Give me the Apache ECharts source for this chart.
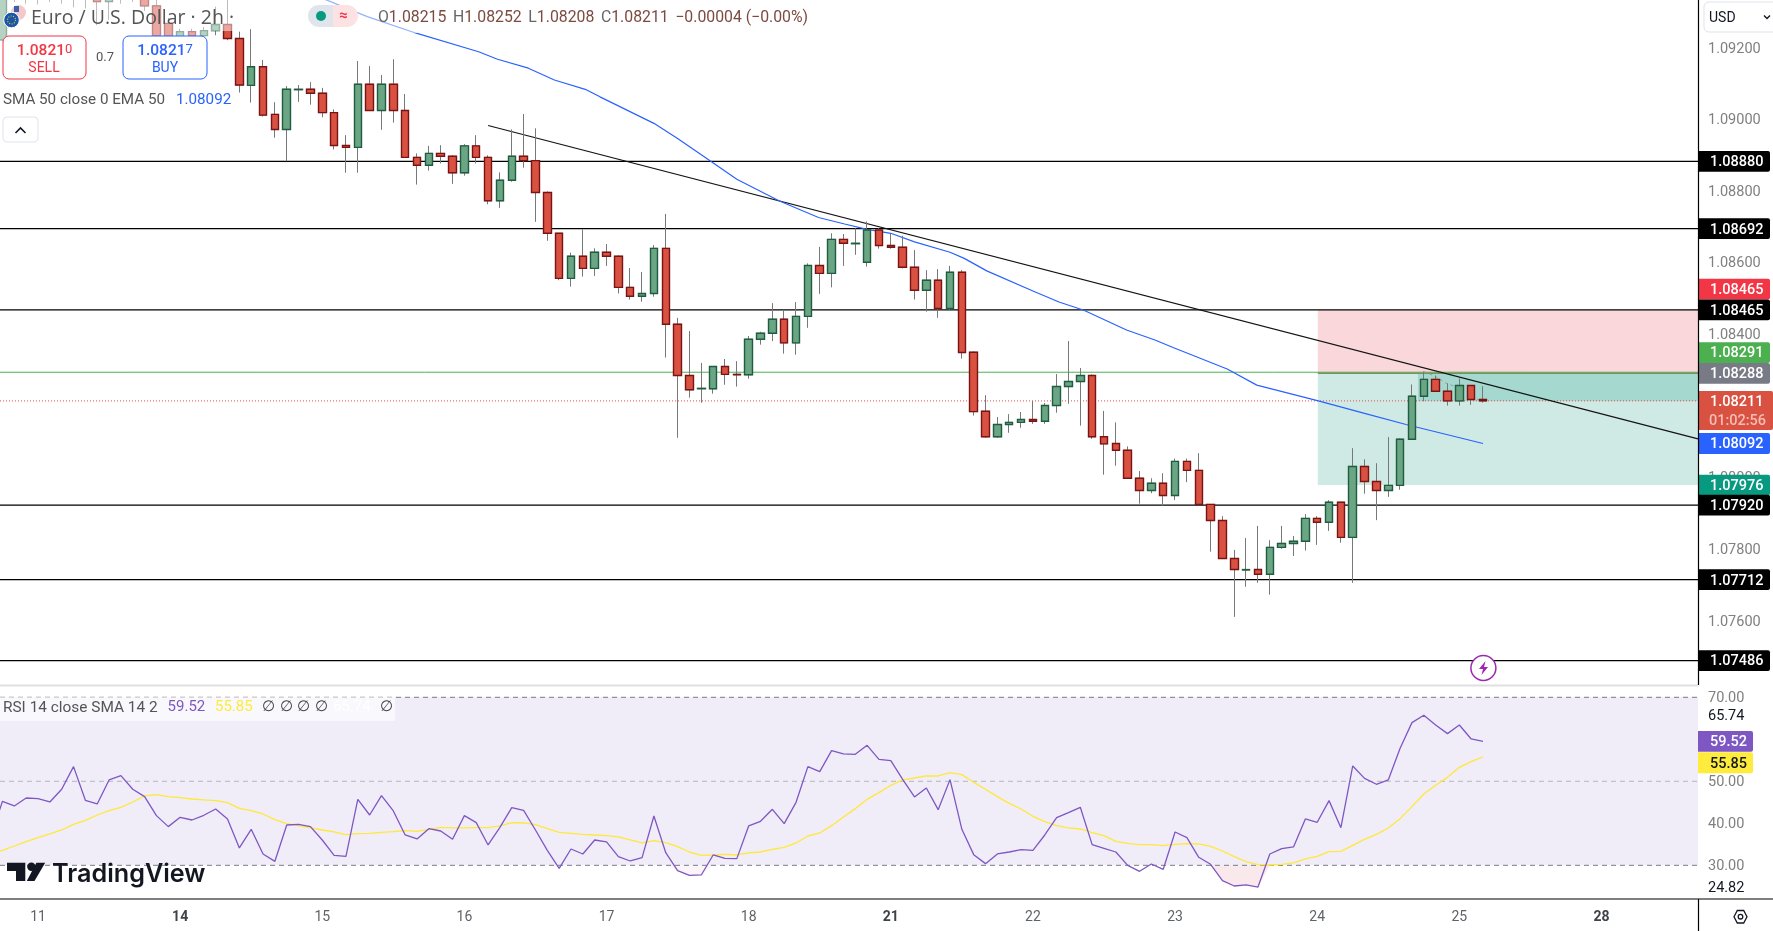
<!DOCTYPE html>
<html><head><meta charset="utf-8">
<style>html,body{margin:0;padding:0;background:#fff}#c{width:1773px;height:931px}</style>
<script src="https://cdn.jsdelivr.net/npm/echarts@6/dist/echarts.min.js"></script>
</head><body><div id="c"></div>
<script>
// ---- data (bar index 0 = the "11" day tick; the first bar is index -3, 2h bars) ----
const firstBar = -3;
const opens = [
1.09219,1.09360,1.09400,1.09370,1.09400,1.09380,1.09410,1.09380,1.09400,1.09326,
1.09400,1.09370,1.09385,1.09314,1.09265,1.09228,1.09242,1.09231,1.09245,1.09262,
1.09223,1.09092,1.09144,1.09011,1.08969,1.09080,1.09081,1.09070,1.09016,1.08924,
1.08919,1.09095,1.09022,1.09095,1.09022,1.08891,1.08869,1.08902,1.08894,1.08848,
1.08923,1.08891,1.08770,1.08827,1.08894,1.08882,1.08793,1.08679,1.08553,1.08615,
1.08581,1.08626,1.08615,1.08528,1.08503,1.08511,1.08637,1.08425,1.08282,1.08245,
1.08245,1.08307,1.08285,1.08284,1.08383,1.08400,1.08439,1.08373,1.08447,1.08589,
1.08567,1.08662,1.08650,1.08598,1.08688,1.08645,1.08640,1.08584,1.08520,1.08548,
1.08469,1.08570,1.08347,1.08182,1.08111,1.08145,1.08151,1.08159,1.08154,1.08198,
1.08251,1.08265,1.08282,1.08111,1.08092,1.08073,1.07995,1.07961,1.07981,1.07947,
1.08042,1.08017,1.07922,1.07877,1.07771,1.07739,1.07740,1.07727,1.07802,1.07813,
1.07819,1.07883,1.07872,1.07928,1.07830,1.08028,1.07986,1.07961,1.07975,1.08104,
1.08224,1.08271,1.08238,1.08211,1.08254,1.08215];
const closes = [
1.09400,1.09400,1.09370,1.09400,1.09380,1.09410,1.09380,1.09390,1.09326,1.09400,
1.09370,1.09385,1.09314,1.09230,1.09230,1.09242,1.09230,1.09245,1.09262,1.09223,
1.09093,1.09144,1.09009,1.08969,1.09081,1.09081,1.09070,1.09016,1.08924,1.08919,
1.09095,1.09022,1.09095,1.09022,1.08891,1.08869,1.08902,1.08894,1.08848,1.08923,
1.08891,1.08770,1.08827,1.08894,1.08882,1.08793,1.08679,1.08553,1.08615,1.08581,
1.08626,1.08615,1.08528,1.08503,1.08511,1.08637,1.08425,1.08282,1.08242,1.08246,
1.08307,1.08285,1.08284,1.08383,1.08400,1.08439,1.08373,1.08447,1.08589,1.08567,
1.08662,1.08651,1.08651,1.08688,1.08645,1.08640,1.08584,1.08520,1.08548,1.08469,
1.08570,1.08346,1.08181,1.08111,1.08145,1.08151,1.08159,1.08154,1.08198,1.08251,
1.08265,1.08282,1.08111,1.08091,1.08073,1.07995,1.07961,1.07981,1.07947,1.08042,
1.08017,1.07922,1.07877,1.07771,1.07740,1.07740,1.07727,1.07802,1.07813,1.07819,
1.07883,1.07872,1.07928,1.07830,1.08028,1.07986,1.07961,1.07975,1.08104,1.08224,
1.08271,1.08238,1.08211,1.08254,1.08215,1.08211];
const lows = [
1.09215,1.09325,1.09320,1.09318,1.09325,1.09320,1.09310,1.09307,1.09260,1.09275,
1.09320,1.09325,1.09300,1.09228,1.09225,1.09222,1.09225,1.09225,1.09232,1.09218,
1.09072,1.09044,1.09005,1.08946,1.08880,1.09046,1.09038,1.09003,1.08913,1.08848,
1.08848,1.09022,1.08968,1.08988,1.08891,1.08815,1.08854,1.08874,1.08817,1.08840,
1.08874,1.08760,1.08750,1.08823,1.08862,1.08711,1.08658,1.08548,1.08530,1.08558,
1.08560,1.08588,1.08511,1.08494,1.08488,1.08502,1.08332,1.08108,1.08220,1.08206,
1.08231,1.08256,1.08251,1.08273,1.08368,1.08378,1.08343,1.08340,1.08415,1.08510,
1.08528,1.08588,1.08619,1.08586,1.08636,1.08636,1.08581,1.08494,1.08460,1.08443,
1.08465,1.08329,1.08170,1.08108,1.08108,1.08122,1.08136,1.08147,1.08147,1.08178,
1.08203,1.08142,1.08105,1.08005,1.08030,1.07995,1.07924,1.07953,1.07918,1.07934,
1.07984,1.07920,1.07790,1.07771,1.07608,1.07692,1.07703,1.07670,1.07798,1.07778,
1.07793,1.07809,1.07848,1.07815,1.07703,1.07952,1.07878,1.07943,1.07963,1.08104,
1.08210,1.08238,1.08198,1.08198,1.08200,1.08208];
const highs = [
1.09420,1.09420,1.09420,1.09430,1.09440,1.09430,1.09430,1.09410,1.09440,1.09420,
1.09420,1.09410,1.09410,1.09345,1.09280,1.09250,1.09250,1.09255,1.09312,1.09340,
1.09242,1.09249,1.09163,1.09045,1.09090,1.09093,1.09101,1.09085,1.09025,1.08953,
1.09160,1.09146,1.09121,1.09165,1.09068,1.08902,1.08923,1.08925,1.08897,1.08928,
1.08953,1.08897,1.08849,1.08969,1.09012,1.08972,1.08796,1.08679,1.08625,1.08690,
1.08637,1.08649,1.08617,1.08582,1.08571,1.08646,1.08733,1.08443,1.08406,1.08317,
1.08307,1.08328,1.08322,1.08392,1.08404,1.08484,1.08465,1.08487,1.08595,1.08641,
1.08679,1.08677,1.08693,1.08712,1.08693,1.08679,1.08672,1.08632,1.08576,1.08579,
1.08588,1.08576,1.08349,1.08227,1.08166,1.08174,1.08180,1.08211,1.08205,1.08286,
1.08378,1.08303,1.08285,1.08183,1.08151,1.08084,1.08015,1.07995,1.08009,1.08050,
1.08050,1.08065,1.07922,1.07889,1.07795,1.07828,1.07862,1.07822,1.07862,1.07834,
1.07895,1.07889,1.07934,1.07928,1.08079,1.08048,1.08037,1.08110,1.08106,1.08257,
1.08293,1.08282,1.08260,1.08274,1.08254,1.08252];

// EMA 50: vertices [bar, price]
const emaBars = [23,24.4,27.8,32,37.2,38.8,41.4,43.6,46.2,47.45,52,54,56.8,59,62.6,65.9,68.1,70,72,74,77,78.2,80.1,84,86.2,88.3,91.9,94.3,95.83,100.4,102.9,108.1,112,115.5,122];
const emaVals = [1.09344,1.09330,1.09284,1.09237,1.09186,1.09165,1.09140,1.09107,1.09081,1.09060,1.08986,1.08944,1.08880,1.08830,1.08769,1.08723,1.08705,1.08690,1.08679,1.08655,1.08626,1.08609,1.08574,1.08518,1.08487,1.08464,1.08409,1.08381,1.08360,1.08300,1.08255,1.08211,1.08176,1.08145,1.08092];

const rsiFirstBar = -4;
const rsi = [
36.8,45.24,44.13,46.03,45.87,45.08,48.10,53.49,45.48,44.60,50.32,51.35,48.10,46.35,41.83,39.21,41.43,40.79,41.91,43.41,
41.03,34.13,38.57,32.70,30.95,39.60,39.76,39.21,36.03,32.38,32.14,45.71,41.98,46.59,42.94,37.22,36.27,38.73,38.17,36.19,
41.83,40.16,34.84,39.05,43.73,43.10,38.41,33.57,29.29,33.89,32.70,36.03,35.56,32.06,31.03,31.82,41.75,33.0,28.73,27.62,
27.70,32.46,31.67,31.59,39.37,40.48,43.33,39.92,45.0,53.49,52.30,57.30,56.51,56.43,58.57,55.24,54.92,50.48,46.27,48.41,
43.25,50.40,38.57,32.54,30.40,32.70,33.17,33.73,33.57,37.22,41.35,42.54,43.81,34.92,34.05,33.17,30.0,28.57,30.32,29.05,
37.94,36.59,31.91,30.24,26.35,25.08,25.32,24.82,32.70,33.97,34.37,41.03,40.24,45.40,38.97,53.65,50.71,49.29,50.32,57.86,
63.97,65.74,63.41,61.35,63.41,60.08,59.52];
const rsiSma = [
32.86,33.57,34.60,35.63,36.59,37.46,38.41,39.76,40.71,41.98,43.0,43.81,45.08,46.51,46.83,46.35,46.11,45.79,45.56,45.40,
44.92,43.57,43.0,42.22,40.87,39.92,39.44,38.89,38.41,37.94,37.30,37.54,37.62,37.86,38.0,38.25,38.10,38.57,39.05,38.89,
38.89,38.97,38.97,39.37,40.16,40.08,39.68,38.73,37.86,37.62,37.38,37.22,37.06,36.75,36.03,35.32,35.87,35.40,34.44,33.17,
32.38,32.46,32.62,32.46,32.94,33.17,33.81,34.29,35.32,36.98,37.70,39.44,41.51,43.49,45.71,47.30,49.05,50.32,50.79,51.27,
51.27,52.06,51.59,49.76,48.10,46.35,44.76,43.41,41.67,40.40,39.44,38.89,38.65,37.78,37.06,35.71,35.24,34.92,34.92,34.68,
35.0,35.16,35.08,34.49,33.41,32.06,30.87,30.16,30.08,30.24,30.56,31.51,32.14,33.25,33.33,34.76,36.19,37.38,38.89,41.11,
43.97,46.98,49.05,50.94,53.33,54.68,55.85];

const blackLevels = [1.08880,1.08692,1.08465,1.07920,1.07712,1.07486];
const stopLevel = 1.08465, entryLevel = 1.08288, targetLevel = 1.07976, greenLevel = 1.08291, lastPrice = 1.08211;
const positionStartBar = 108.05, positionFillBar = 116.5;
const trendBars = [38,140.15];
const trendVals = [1.08980,1.08105];
const pathBars = [117,118,119,120,121,122];
const pathVals = [1.08293,1.08279,1.08258,1.08249,1.08227,1.08206];

const dayBars = [0,12,24,36,48,60,72,84,96,108,120,132];
const dayLabels = ['11','14','15','16','17','18','21','22','23','24','25','28'];
const boldDays = ['14','21','28'];
const priceTicks = [1.092,1.090,1.088,1.086,1.084,1.082,1.080,1.078,1.076];
const rsiTicks = [70,65.74,50,40,30,24.82];
const rsiMarked = [65.74,24.82];

// right-hand price badges: [position value, text, background, text colour]
const priceBadges = [
 [1.08880,'1.08880','#000000','#ffffff'],[1.08692,'1.08692','#000000','#ffffff'],
 [1.08523,'1.08465','#f23645','#ffffff'],[1.08465,'1.08465','#000000','#ffffff'],
 [1.08346,'1.08291','#4caf50','#ffffff'],[1.08288,'1.08288','#787b86','#ffffff'],
 [1.08092,'1.08092','#2962ff','#ffffff'],[1.07976,'1.07976','#089981','#ffffff'],
 [1.07920,'1.07920','#000000','#ffffff'],[1.07712,'1.07712','#000000','#ffffff'],
 [1.07486,'1.07486','#000000','#ffffff']];
const rsiBadges = [[59.52,'59.52','#7e57c2','#ffffff'],[54.42,'55.85','#ffeb3b','#131722']];

// ---- chart ----
const X_MIN=-3.208, X_MAX=140.15, FONT='Roboto, sans-serif';
const AXIS_X=1698;
const bars = opens.map((o,k)=>k+firstBar);
const wickData = opens.map((o,k)=>[bars[k],o,closes[k],lows[k],highs[k]]);
const bodyData = opens.map((o,k)=>[bars[k],o,closes[k],Math.min(o,closes[k]),Math.max(o,closes[k])]);
const toPairs=(xs,ys)=>xs.map((x,k)=>[x,ys[k]]);
const rsiPairs = rsi.map((v,k)=>[k+rsiFirstBar,v]);
const smaPairs = rsiSma.map((v,k)=>[k+rsiFirstBar,v]);
const hline=(name,v,color,width,type,ax,z)=>({name,type:'line',xAxisIndex:ax,yAxisIndex:ax,data:[[X_MIN,v],[X_MAX,v]],
  showSymbol:false,symbol:'none',silent:true,z:z||2,lineStyle:{color,width,type:type||'solid'},animation:false});

const boxes=[ // x0,x1,yTop,yBottom,fill
 [positionStartBar,X_MAX,stopLevel,entryLevel,'#fad7da'],
 [positionStartBar,X_MAX,entryLevel,targetLevel,'#cfeae4'],
 [positionFillBar,X_MAX,entryLevel,lastPrice,'#a5d9d0']];

function boxRender(p,api){
 const a=api.coord([api.value(0),api.value(2)]), b=api.coord([api.value(1),api.value(3)]);
 return {type:'rect',shape:{x:a[0],y:a[1],width:b[0]-a[0],height:b[1]-a[1]},style:{fill:boxes[p.dataIndex][4]}};
}
function badge(y,h,w,bg,fg,text,extra){
 const kids=[{type:'rect',shape:{x:AXIS_X,y:y-h/2,width:w,height:h,r:[0,2,2,0]},style:{fill:bg}},
  {type:'text',style:{x:AXIS_X+12,y:extra?y-8.5:y+1.3,text,fill:fg,font:'500 14.5px '+FONT,textVerticalAlign:'middle',textAlign:'left'}}];
 if(extra) kids.push({type:'text',style:{x:AXIS_X+11,y:y+11,text:extra,fill:'#f5bdb6',font:'500 14.5px '+FONT,textVerticalAlign:'middle',textAlign:'left'}});
 return {type:'group',children:kids};
}
const priceBadgeRender=(p,api)=>{const r=priceBadges[p.dataIndex];
 return badge(api.coord([X_MAX,api.value(1)])[1],20.8,72,r[2],r[3],r[1]);};
const rsiBadgeRender=(p,api)=>{const r=rsiBadges[p.dataIndex];
 return badge(api.coord([X_MAX,api.value(1)])[1],20.8,55,r[2],r[3],r[1]);};
const timerRender=(p,api)=>badge(api.coord([X_MAX,api.value(1)])[1],39,75,'#d95140','#ffffff','1.08211','01:02:56');

const G=[]; // page chrome and legends
const Z=50;
const T=(x,y,text,fill,size,weight,extra)=>G.push(Object.assign({type:'text',z:Z+2,x,y,style:{text,fill,font:(weight||400)+' '+size+'px '+FONT,textVerticalAlign:'middle'}},extra||{}));
const R=(x,y,w,h,fill,stroke,r,z)=>G.push({type:'rect',z:z||Z+1,shape:{x,y,width:w,height:h,r:r||0},style:{fill,stroke:stroke||null,lineWidth:stroke?1:0}});
const L=(x1,y1,x2,y2,stroke,w)=>G.push({type:'line',z:Z,shape:{x1,y1,x2,y2},style:{stroke,lineWidth:w||1}});
// header fade
R(0,0,233,31,'rgba(255,255,255,0.5)',null,0,Z);
R(0,31,210,51,'rgba(255,255,255,0.5)',null,0,Z);
R(300,0,530,33,'rgba(255,255,255,0.5)',null,0,Z);
// flags
G.push({type:'circle',z:Z+1,shape:{cx:18.5,cy:12.5,r:7.5},style:{fill:'#f4c9cc'}});
R(14,6,5,6,'#3c5fa8',null,0,Z+1);
G.push({type:'circle',z:Z+2,shape:{cx:11.5,cy:20,r:7.8},style:{fill:'#1a57a8',stroke:'#fff',lineWidth:1}});
G.push({type:'circle',z:Z+3,shape:{cx:11.5,cy:20,r:4},style:{fill:'none',stroke:'#e8c93a',lineWidth:1.2,lineDash:[1,1.5]}});
T(31,18,'Euro / U.S. Dollar · 2h ·','#555555',19.5,400,{style:{text:'Euro / U.S. Dollar · 2h ·',fill:'#555555',font:'400 19.5px "Open Sans", sans-serif',textVerticalAlign:'middle'}});
// status pill
R(308,5,25,22,'#dfe5ea',null,[11,0,0,11]);
R(333,5,25,22,'#fde2e4',null,[0,11,11,0]);
G.push({type:'circle',z:Z+2,shape:{cx:321,cy:16,r:5},style:{fill:'#089981'}});
T(339,16,'≈','#f23645',15,700);
// OHLC
G.push({type:'text',z:Z+2,x:378,y:18,style:{text:'{l|O}{v|1.08215}  {l|H}{v|1.08252}  {l|L}{v|1.08208}  {l|C}{v|1.08211}  {v|−0.00004 (−0.00%)}',
  textVerticalAlign:'middle',rich:{l:{fill:'#666',font:'400 15.8px '+FONT},v:{fill:'#7c4a40',font:'400 15.8px '+FONT}}}});
// sell / buy
R(3,36,83,43,'#fff','#f23645',6);
G.push({type:'text',z:Z+2,x:44.5,y:51,style:{text:'{a|1.0821}{b|0}',textAlign:'center',textVerticalAlign:'middle',rich:{a:{fill:'#f23645',font:'500 15.5px '+FONT},b:{fill:'#f23645',font:'400 13px '+FONT,verticalAlign:'top'}}}});
T(44,68,'SELL','#f23645',14,400,{style:{text:'SELL',fill:'#f23645',font:'400 14px '+FONT,textAlign:'center',textVerticalAlign:'middle'}});
T(96,58,'0.7','#555555',13,400);
R(123,36,84,43,'#fff','#2962ff',6);
G.push({type:'text',z:Z+2,x:165,y:51,style:{text:'{a|1.0821}{b|7}',textAlign:'center',textVerticalAlign:'middle',rich:{a:{fill:'#2962ff',font:'500 15.5px '+FONT},b:{fill:'#2962ff',font:'400 13px '+FONT,verticalAlign:'top'}}}});
T(165,68,'BUY','#2962ff',14,400,{style:{text:'BUY',fill:'#2962ff',font:'400 14px '+FONT,textAlign:'center',textVerticalAlign:'middle'}});
// EMA legend
T(3,99.7,'SMA 50 close 0 EMA 50','#555555',15.2,400);
T(176,99.7,'1.08092','#2962ff',15.2,400);
R(3,117,35,25,'#fff','#e0e3eb',4);
G.push({type:'polyline',z:Z+2,shape:{points:[[15.5,133],[20.5,128],[25.5,133]]},style:{stroke:'#131722',lineWidth:1.6,fill:'none'}});
// USD
R(1704,2,75,30,'#fff','#e0e3eb',5);
T(1709,18,'USD','#131722',14,400);
G.push({type:'polyline',z:Z+2,shape:{points:[[1764,15.5],[1767,18.5],[1770,15.5]]},style:{stroke:'#131722',lineWidth:1.4,fill:'none'}});
// lightning
G.push({type:'circle',z:Z+1,shape:{cx:1483.4,cy:668,r:12.5},style:{fill:'#fff',stroke:'#9c27b0',lineWidth:1.5}});
G.push({type:'polygon',z:Z+2,shape:{points:[[1485.5,661],[1479,669],[1483,669],[1481.5,675],[1488,667],[1484,667]]},style:{fill:'#9c27b0'}});
// frame lines
L(0,685.5,AXIS_X,685.5,'#e0e0e0',2);
L(AXIS_X+0.5,0,AXIS_X+0.5,685,'#000',1.2);
L(0,899,1773,899,'#000',1.2);
L(AXIS_X+0.5,899,AXIS_X+0.5,931,'#000',1.2);
// gear
G.push({type:'polygon',z:Z,shape:{points:[[1734,916.7],[1737.3,910.5],[1743.7,910.5],[1747,916.7],[1743.7,923],[1737.3,923]]},style:{fill:'none',stroke:'#131722',lineWidth:1.3}});
G.push({type:'circle',z:Z,shape:{cx:1740.5,cy:916.7,r:2.3},style:{fill:'none',stroke:'#131722',lineWidth:1.3}});
// RSI legend
R(0,697,395,24,'rgba(255,255,255,0.6)',null,0,Z-1);
T(3,707.7,'RSI 14 close SMA 14 2','#555555',15.4,400);
T(167.6,707.7,'59.52','#7e57c2',15,400);
T(215,707.7,'55.85','#ffeb3b',15,400);
[262,280,297,315,380].forEach(x=>T(x,707.7,'∅','#444',15,400));
T(333,707.7,'65.74','#ffffff',15,400);
// logo
G.push({type:'polygon',z:Z+2,shape:{points:[[7,862.7],[25.3,862.7],[25.3,881],[16,881],[16,871],[7,871]]},style:{fill:'#131722'}});
G.push({type:'circle',z:Z+2,shape:{cx:31.4,cy:866.7,r:4.2},style:{fill:'#131722'}});
G.push({type:'polygon',z:Z+2,shape:{points:[[36.4,862.7],[45.2,862.7],[34.5,881],[26.8,881]]},style:{fill:'#131722'}});
T(52,874,'TradingView','#131722',25,600,{style:{text:'TradingView',fill:'#131722',font:'600 25.2px Inter, sans-serif',textVerticalAlign:'middle'}});

const option={
 animation:false,backgroundColor:'#ffffff',
 grid:[{left:0,top:0,width:AXIS_X,height:685},{left:0,top:685,width:AXIS_X,height:214}],
 xAxis:[
  {type:'value',gridIndex:0,min:X_MIN,max:X_MAX,show:false,splitLine:{show:false}},
  {type:'value',gridIndex:1,min:X_MIN,max:X_MAX,splitLine:{show:false},axisLine:{show:false},axisTick:{show:false},
   axisLabel:{customValues:dayBars,margin:11,hideOverlap:false,showMinLabel:true,showMaxLabel:true,
    formatter:v=>{const d=dayLabels[dayBars.indexOf(Math.round(v))];return boldDays.includes(d)?'{b|'+d+'}':'{n|'+d+'}';},
    rich:{n:{color:'#5f6368',fontFamily:FONT,fontSize:14},b:{color:'#3f4247',fontFamily:FONT,fontSize:14,fontWeight:700}}}}],
 yAxis:[
  {type:'value',gridIndex:0,position:'right',min:1.074177,max:1.093304,splitLine:{show:false},axisLine:{show:false},axisTick:{show:false},
   axisLabel:{customValues:priceTicks,margin:10,formatter:v=>'{p|'+v.toFixed(5)+'}',
    rich:{p:{color:'#808080',fontFamily:FONT,fontSize:14.5,padding:[4.5,0,0,0]}}}},
  {type:'value',gridIndex:1,position:'right',min:21.98,max:72.93,splitLine:{show:false},axisLine:{show:false},axisTick:{show:false},
   axisLabel:{customValues:rsiTicks,margin:10,
    formatter:v=>(rsiMarked.includes(v)?'{m|':'{p|')+v.toFixed(2)+'}',
    rich:{p:{color:'#808080',fontFamily:FONT,fontSize:14.5,padding:[2.5,0,0,0]},m:{color:'#131722',fontFamily:FONT,fontSize:14.5,padding:[2.5,0,0,0]}}}}],
 graphic:{elements:G},
 series:[
  {name:'Position zones',type:'custom',renderItem:boxRender,xAxisIndex:0,yAxisIndex:0,silent:true,z:1,encode:{x:[0,1],y:[2,3]},
   data:boxes.map(b=>b.slice(0,4))},
  ...blackLevels.map(v=>hline('Level '+v,v,'#000000',1.2,'solid',0,2)),
  hline('Position line',greenLevel,'#4caf50',1,'solid',0,2),
  hline('Last price',lastPrice,'#e5484d',1,[1,2],0,2),
  {name:'Entry',type:'custom',xAxisIndex:0,yAxisIndex:0,silent:true,z:2,encode:{x:[0,1],y:2},data:[[positionStartBar,X_MAX,entryLevel]],
   renderItem:(p,api)=>{const a=api.coord([api.value(0),api.value(2)]),b=api.coord([api.value(1),api.value(2)]);
    return {type:'line',shape:{x1:a[0],y1:a[1],x2:b[0],y2:b[1]},style:{stroke:'#7d8f62',lineWidth:1.5}};}},
  {name:'Trend line',type:'line',xAxisIndex:0,yAxisIndex:0,data:toPairs(trendBars,trendVals),showSymbol:false,symbol:'none',z:3,lineStyle:{color:'#131313',width:1.2}},
  {name:'EMA 50',type:'line',xAxisIndex:0,yAxisIndex:0,data:toPairs(emaBars,emaVals),showSymbol:false,symbol:'none',z:3,lineStyle:{color:'#2962ff',width:1.2}},
  {name:'Path',type:'line',xAxisIndex:0,yAxisIndex:0,data:toPairs(pathBars,pathVals),showSymbol:false,symbol:'none',z:3,lineStyle:{color:'#9a9a9a',width:1,type:[3,3]}},
  {name:'Wicks',type:'candlestick',xAxisIndex:0,yAxisIndex:0,data:wickData,encode:{x:0,y:[1,2,3,4]},barWidth:8,z:5,silent:true,clip:true,
   itemStyle:{color:'#6aa584',color0:'#d95140',borderColor:'#787878',borderColor0:'#787878',borderColorDoji:'#787878',borderWidth:1}},
  {name:'EUR/USD',type:'candlestick',xAxisIndex:0,yAxisIndex:0,data:bodyData,encode:{x:0,y:[1,2,3,4]},barWidth:8,z:6,silent:true,clip:true,
   itemStyle:{color:'#6aa584',color0:'#d95140',borderColor:'#1f5d40',borderColor0:'#7a1414',borderColorDoji:'#1f5d40',borderWidth:1.4}},
  {name:'Timer',type:'custom',renderItem:timerRender,xAxisIndex:0,yAxisIndex:0,silent:true,z:20,encode:{x:0,y:1},data:[[X_MAX,1.08184]]},
  {name:'Badges',type:'custom',renderItem:priceBadgeRender,xAxisIndex:0,yAxisIndex:0,silent:true,z:21,encode:{x:0,y:1},data:priceBadges.map(b=>[X_MAX,b[0]])},
  // RSI pane
  {name:'RSI band',type:'custom',xAxisIndex:1,yAxisIndex:1,silent:true,z:1,encode:{x:[0,1],y:[2,3]},data:[[X_MIN,X_MAX,70,30]],
   renderItem:(p,api)=>{const a=api.coord([api.value(0),api.value(2)]),b=api.coord([api.value(1),api.value(3)]);
    return {type:'rect',shape:{x:a[0],y:a[1],width:b[0]-a[0],height:b[1]-a[1]},style:{fill:'#f0edf9'}};}},
  hline('RSI 70',70,'#787b86',1,[5,4],1,2),
  hline('RSI 50',50,'#b2b5be',1,[5,4],1,2),
  hline('RSI 30',30,'#787b86',1,[5,4],1,2),
  {name:'Oversold',type:'line',xAxisIndex:1,yAxisIndex:1,silent:true,z:2,showSymbol:false,symbol:'none',lineStyle:{width:0},
   areaStyle:{origin:30,color:'#f8dfe4'},data:rsiPairs.filter(p=>p[0]>=99&&p[0]<=104).map(p=>[p[0],Math.min(p[1],30)])},
  {name:'Oversold 2',type:'line',xAxisIndex:1,yAxisIndex:1,silent:true,z:2,showSymbol:false,symbol:'none',lineStyle:{width:0},
   areaStyle:{origin:30,color:'#faf0f5'},data:rsiPairs.filter(p=>p[0]>=53&&p[0]<=57).map(p=>[p[0],Math.min(p[1],30)])},
  {name:'RSI SMA',type:'line',xAxisIndex:1,yAxisIndex:1,data:smaPairs,showSymbol:false,symbol:'none',z:3,lineStyle:{color:'#ffe838',width:1.3}},
  {name:'RSI',type:'line',xAxisIndex:1,yAxisIndex:1,data:rsiPairs,showSymbol:false,symbol:'none',z:4,lineStyle:{color:'#7e57c2',width:1.3}},
  {name:'RSI badges',type:'custom',renderItem:rsiBadgeRender,xAxisIndex:1,yAxisIndex:1,silent:true,z:21,encode:{x:0,y:1},data:rsiBadges.map(b=>[X_MAX,b[0]])}
 ]
};
const chart=echarts.init(document.getElementById('c'),null,{renderer:'canvas',width:1773,height:931});
chart.setOption(option);
</script></body></html>
